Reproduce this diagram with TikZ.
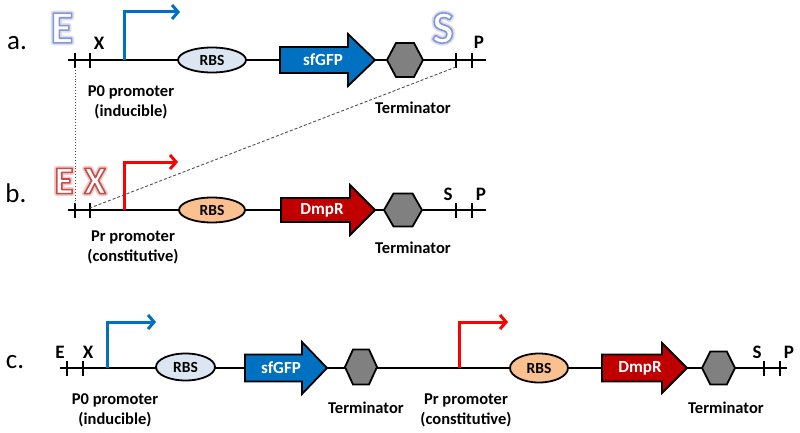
\documentclass[tikz,border=0pt]{standalone}
\usepackage{fontspec}
\setmainfont{Carlito}
\usetikzlibrary{arrows.meta,shapes.geometric}
\definecolor{pblue}{HTML}{0070C0}
\definecolor{pred}{HTML}{FF0000}
\definecolor{dred}{HTML}{C00000}
\definecolor{rbsblue}{HTML}{DCE6F2}
\definecolor{rbspeach}{HTML}{FAC090}
\definecolor{hexgray}{HTML}{808080}
\definecolor{dashgray}{HTML}{505050}
\tikzset{
  backbone/.style={line width=2.8pt},
  tick/.style={line width=2pt},
  promo/.style={line width=3pt, -{Straight Barb[length=6pt,width=14pt]}},
  rbs/.style={ellipse, draw, line width=1.8pt, inner sep=0pt, font=\bfseries\fontsize{15.5}{17}\selectfont},
  genes/.style={line width=1.8pt, draw=black},
  genetxt/.style={text=white, font=\bfseries\fontsize{17}{19}\selectfont, inner sep=0pt},
  hexs/.style={line width=1.8pt, draw=black, fill=hexgray},
  lbl/.style={align=center, font=\bfseries\fontsize{16.5}{20}\selectfont, inner sep=0pt},
  site/.style={font=\bfseries\fontsize{19}{21}\selectfont, inner sep=0pt},
  rowlbl/.style={font=\fontsize{27}{29}\selectfont, inner sep=0pt},
  glyph/.style={inner sep=0pt, text=white, font=\bfseries\fontsize{#1}{#1}\selectfont},
  dotline/.style={line width=0.9pt, dotted, draw=dashgray},
  dashline/.style={line width=0.9pt, dash pattern=on 3pt off 2pt, draw=dashgray}
}
% outlined letter: #1 glow rgb, #2 outline rgb, #3 text
\newcommand\outlinetext[3]{%
  \special{pdf:literal direct 1 j 1 Tr 5 w #1 RG}\rlap{#3}%
  \special{pdf:literal direct 2 Tr 1.6 w #2 RG}#3%
  \special{pdf:literal direct 0 Tr}}
\newcommand\hexshape[4]{%
  \draw[hexs] ({#1-#3},#2) -- ({#1-#3/2},{#2-#4}) -- ({#1+#3/2},{#2-#4}) -- ({#1+#3},#2) -- ({#1+#3/2},{#2+#4}) -- ({#1-#3/2},{#2+#4}) -- cycle;
}
\newcommand\genearrow[7]{%
  \draw[genes, fill=#7] (#1,{#4-#5}) -- (#2,{#4-#5}) -- (#2,{#4-#6}) -- (#3,#4) -- (#2,{#4+#6}) -- (#2,{#4+#5}) -- (#1,{#4+#5}) -- cycle;
}
\begin{document}
\begin{tikzpicture}[x=1pt,y=-1pt]
\useasboundingbox (0,0) rectangle (800,433);

% ---------------- row a ----------------
\node[rowlbl] (la) at (17,43) {a.};
\node[glyph=46] (Ea) at (62,28) {\outlinetext{0.85 0.87 0.95}{0.52 0.59 0.84}{E}};
\node[glyph=46] (Sa) at (443,28) {\outlinetext{0.85 0.87 0.95}{0.52 0.59 0.84}{S}};
\coordinate (aL) at (68,60);
\coordinate (aR) at (486,60);
\draw[backbone] (aL) -- (aR);
\foreach \x in {75,90,456,472} \draw[tick] (\x,53) -- (\x,68);
\node[site] (Xa) at (99,43) {X};
\node[site] (Pa) at (479,42) {P};
\coordinate (proA) at (124,60);
\coordinate (proAend) at (180,12);
\draw[promo, draw=pblue] (proA) |- (proAend);
\node[rbs, fill=rbsblue, minimum width=68pt, minimum height=25pt] (rbsA) at (212,60) {RBS};
\genearrow{280}{348}{375}{60}{13}{26}{pblue}
\node[genetxt] (gfpA) at (323,60) {sfGFP};
\hexshape{405}{60}{18}{17}
\node[lbl] (pA) at (131,102) {P0 promoter\\(inducible)};
\node[lbl] (tA) at (413,108) {Terminator};

% ---------------- row b ----------------
\node[rowlbl] (lb) at (16,193) {b.};
\node[glyph=39] (Eb) at (64,181) {\outlinetext{0.95 0.80 0.79}{0.76 0.31 0.30}{E}};
\node[glyph=39] (Xb) at (95,181) {\outlinetext{0.95 0.80 0.79}{0.76 0.31 0.30}{X}};
\coordinate (bL) at (68,210);
\coordinate (bR) at (486,210);
\draw[backbone] (bL) -- (bR);
\foreach \x in {75,90,456,472} \draw[tick] (\x,203) -- (\x,218);
\node[site] (Sb) at (448,194) {S};
\node[site] (Pb) at (481,194) {P};
\coordinate (proB) at (124,210);
\coordinate (proBend) at (178,162);
\draw[promo, draw=pred] (proB) |- (proBend);
\node[rbs, fill=rbspeach, minimum width=66pt, minimum height=25pt] (rbsB) at (212,210) {RBS};
\genearrow{281}{350}{375}{210}{12}{25}{dred}
\node[genetxt] (dmpB) at (322,210) {DmpR};
\hexshape{403}{210}{19}{16.5}
\node[lbl] (pB) at (133,247) {Pr promoter\\(constitutive)};
\node[lbl] (tB) at (413,248) {Terminator};

% ---------------- connectors a -> b ----------------
\coordinate (dEa) at (75,67);
\coordinate (dEb) at (75,205);
\coordinate (dSa) at (456,67);
\coordinate (dXb) at (90,208);
\draw[dotline] (dEa) -- (dEb);
\draw[dashline] (dSa) -- (dXb);

% ---------------- row c ----------------
\node[rowlbl] (lc) at (15,362) {c.};
\coordinate (cL) at (60,368);
\coordinate (cR) at (787,368);
\draw[backbone] (cL) -- (cR);
\foreach \x in {67,83,764,780} \draw[tick] (\x,361) -- (\x,376);
\node[site] (Ec) at (60,352) {E};
\node[site] (Xc) at (88,352) {X};
\node[site] (Sc) at (757,352) {S};
\node[site] (Pc) at (789,352) {P};
\coordinate (proC1) at (107,368);
\coordinate (proC1end) at (156,322);
\draw[promo, draw=pblue] (proC1) |- (proC1end);
\node[rbs, fill=rbsblue, minimum width=59pt, minimum height=27pt] (rbsC1) at (185.5,367) {RBS};
\genearrow{245}{302}{327}{368}{13.5}{26}{pblue}
\node[genetxt] (gfpC) at (281,368) {sfGFP};
\hexshape{361}{367}{16}{17.5}
\node[lbl] (pC1) at (115,410) {P0 promoter\\(inducible)};
\node[lbl] (tC1) at (366,408) {Terminator};
\coordinate (proC2) at (459,368);
\coordinate (proC2end) at (508,322);
\draw[promo, draw=pred] (proC2) |- (proC2end);
\node[rbs, fill=rbspeach, minimum width=58pt, minimum height=29pt] (rbsC2) at (539,368) {RBS};
\genearrow{602}{662}{687}{368}{13.5}{25}{dred}
\node[genetxt] (dmpC) at (640,368) {DmpR};
\hexshape{718.5}{368}{16.5}{16.5}
\node[lbl] (pC2) at (466,410) {Pr promoter\\(constitutive)};
\node[lbl] (tC2) at (726,408) {Terminator};
\end{tikzpicture}
\end{document}
